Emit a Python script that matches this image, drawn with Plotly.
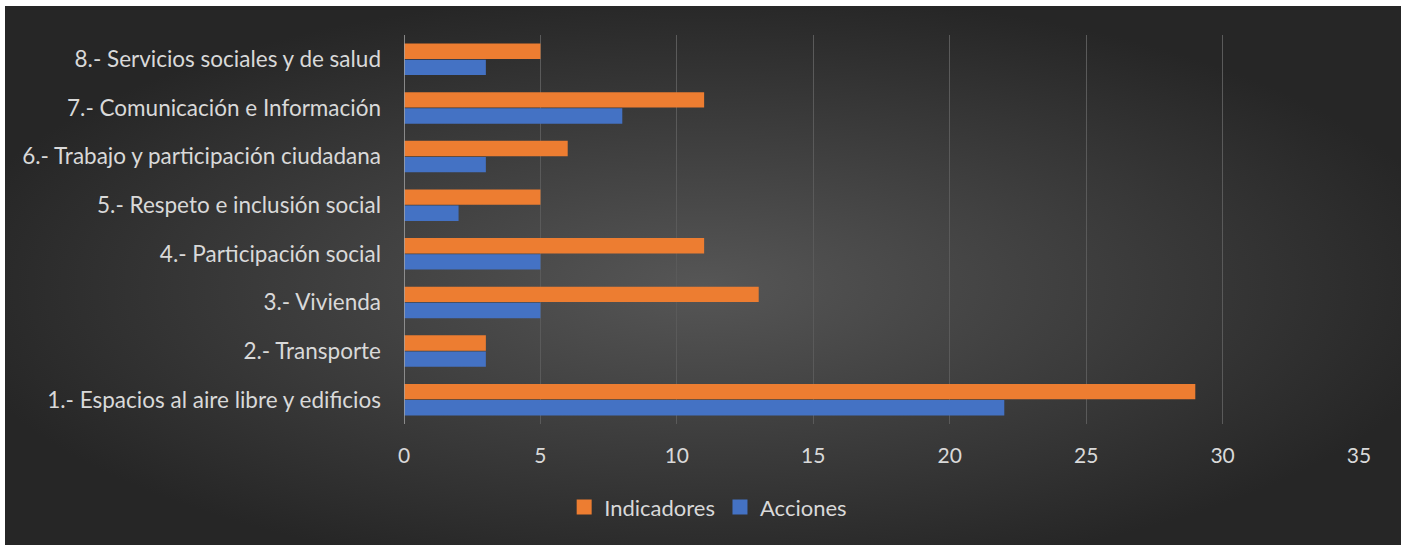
import base64
import plotly.graph_objects as go

categories = [
    "1.- Espacios al aire libre y edificios",
    "2.- Transporte",
    "3.- Vivienda",
    "4.- Participación social",
    "5.- Respeto e inclusión social",
    "6.- Trabajo y participación ciudadana",
    "7.- Comunicación e Información",
    "8.- Servicios sociales y de salud",
]
acciones = [22, 3, 5, 5, 2, 3, 8, 3]
indicadores = [29, 3, 13, 11, 5, 6, 11, 5]
x_ticks = [0, 5, 10, 15, 20, 25, 30, 35]

W, H = 1405, 545
L, R, T, B = 404, 1359, 35, 424

svg = '''<svg xmlns="http://www.w3.org/2000/svg" width="1396" height="539" viewBox="0 0 1396 539" preserveAspectRatio="none">
<defs><radialGradient id="g" cx="50%" cy="52%" r="55%" gradientUnits="objectBoundingBox">
<stop offset="0%" stop-color="#565656"/><stop offset="100%" stop-color="#262626"/></radialGradient></defs>
<rect width="1396" height="539" fill="url(#g)"/></svg>'''
src = "data:image/svg+xml;base64," + base64.b64encode(svg.encode()).decode()

pw, ph = R - L, B - T
BLUE, ORANGE = "#4472C4", "#ED7D31"
fig = go.Figure()
fig.add_trace(go.Bar(y=categories, x=acciones, orientation="h", name="Acciones",
                     marker=dict(color=BLUE, line=dict(width=0)), showlegend=False))
fig.add_trace(go.Bar(y=categories, x=indicadores, orientation="h", name="Indicadores",
                     marker=dict(color=ORANGE, line=dict(width=0)), showlegend=False))
# legend entries with larger square swatches
fig.add_trace(go.Scatter(x=[None], y=[None], mode="markers", name="Acciones",
                         marker=dict(symbol="square", size=15, color=BLUE)))
fig.add_trace(go.Scatter(x=[None], y=[None], mode="markers", name="Indicadores",
                         marker=dict(symbol="square", size=15, color=ORANGE)))

fig.add_layout_image(dict(source=src, xref="paper", yref="paper",
                          x=(5 - L) / pw, y=1 + (T - 6) / ph,
                          sizex=(1401 - 5) / pw, sizey=(545 - 6) / ph,
                          xanchor="left", yanchor="top", sizing="stretch", layer="below"))

font = "Lato, 'Open Sans', sans-serif"
fig.update_layout(
    width=W, height=H,
    margin=dict(l=L, r=W - R, t=T, b=H - B, pad=0),
    paper_bgcolor="white", plot_bgcolor="rgba(0,0,0,0)",
    barmode="group", bargap=0.34, bargroupgap=0.04,
    font=dict(family=font, size=22, color="#d9d9d9"),
    showlegend=True,
    legend=dict(orientation="h", x=0.3185, xanchor="center", y=-0.16, yanchor="top",
                traceorder="reversed", font=dict(size=22, color="#d9d9d9"),
                bgcolor="rgba(0,0,0,0)", itemwidth=30, tracegroupgap=0),
    xaxis=dict(range=[0, 35], tickvals=x_ticks, showgrid=True, gridcolor="#5a5a5a",
               gridwidth=1, zeroline=False, showline=False, ticks="",
               tickfont=dict(size=21, color="#d9d9d9"), ticklabelstandoff=17),
    yaxis=dict(categoryorder="array", categoryarray=categories, showgrid=False,
               zeroline=False, showline=False, ticks="", range=[-0.5, 7.5],
               tickfont=dict(size=22.5, color="#d9d9d9"), ticklabelstandoff=22),
)
fig.add_shape(type="line", xref="x", yref="paper", x0=0, x1=0, y0=0, y1=1,
              line=dict(color="#a6a6a6", width=1.5))
fig.write_html("out.html", config={"displayModeBar": False},
               post_script="document.body.style.margin='0';document.body.style.overflow='hidden';")
